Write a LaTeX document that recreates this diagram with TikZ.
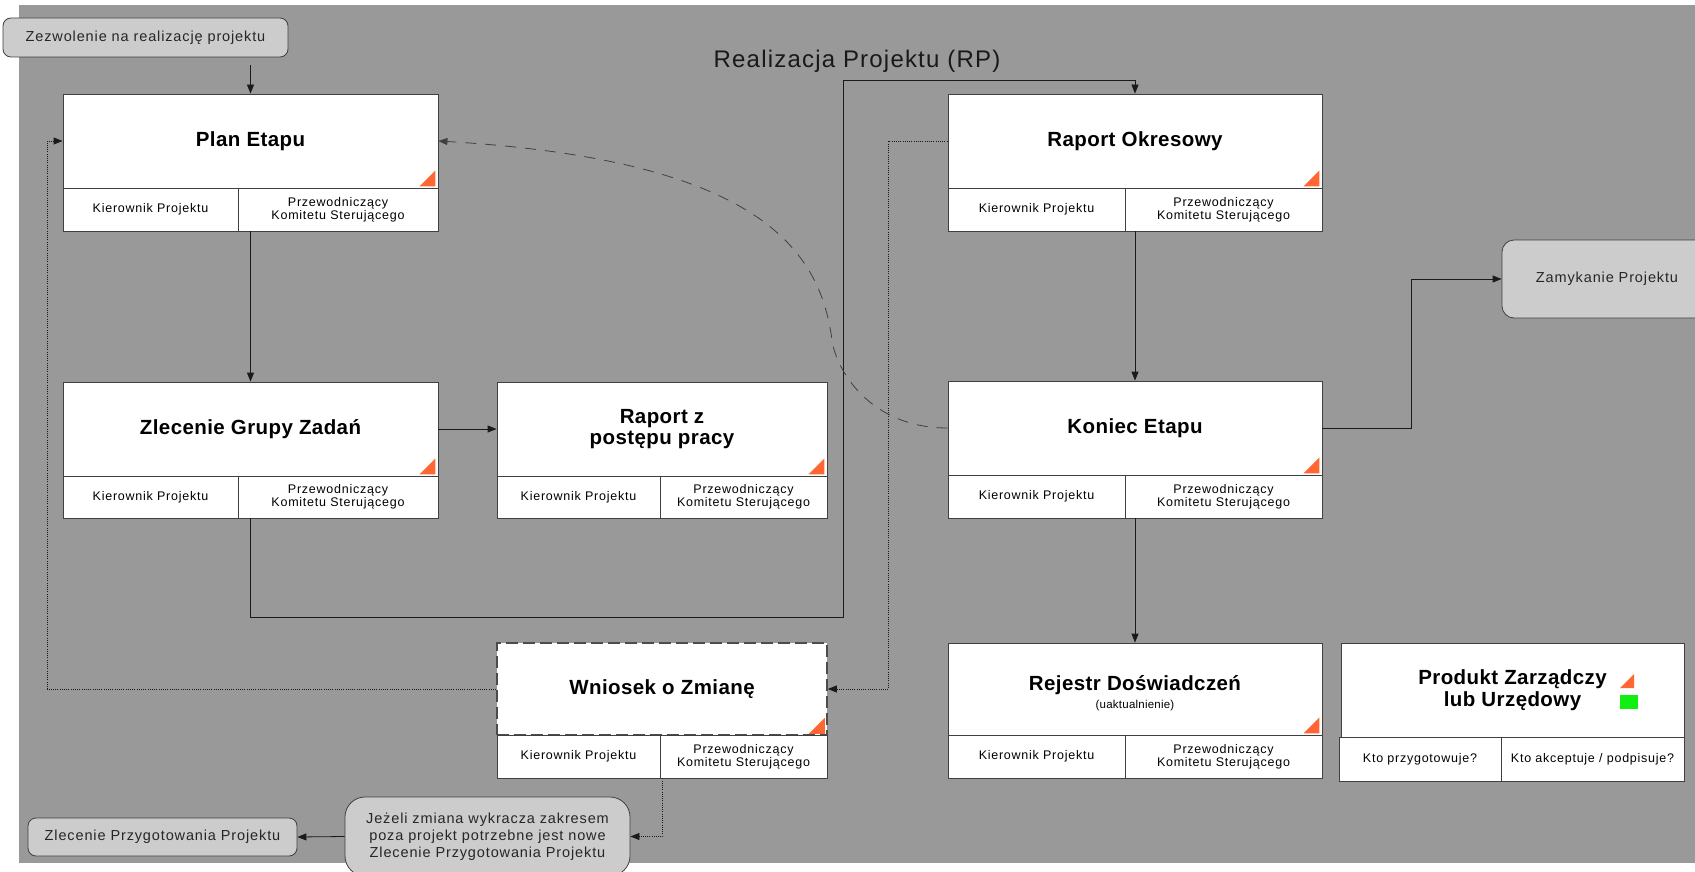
\documentclass[tikz,border=0pt]{standalone}
\usepackage{fontspec}
\setmainfont{Liberation Sans}
\newfontfamily\trk[LetterSpace=6]{Liberation Sans}
\newfontfamily\trkt[LetterSpace=5]{Liberation Sans}
\newfontfamily\trks[LetterSpace=2]{Liberation Sans}
\newfontfamily\trkb[LetterSpace=2]{Liberation Sans}
\usetikzlibrary{arrows.meta,calc}
\definecolor{bggray}{HTML}{999999}
\definecolor{nodegray}{HTML}{CCCCCC}
\definecolor{boxline}{HTML}{404040}
\definecolor{lineclr}{HTML}{1A1A1A}
\definecolor{orng}{HTML}{FF6633}
\definecolor{grn}{HTML}{11EE11}
\tikzset{
  topbox/.style={draw=boxline, fill=white, line width=0.8pt, inner sep=0pt, align=center,
    font=\trkb\bfseries\fontsize{20.5}{21.5}\selectfont},
  boxtitle/.style={inner sep=0pt, align=center, font=\trkb\bfseries\fontsize{20.5}{21.5}\selectfont},
  cellbox/.style={draw=boxline, fill=white, line width=0.8pt, inner sep=0pt, align=center,
    font=\trk\fontsize{12.5}{13}\selectfont},
  grayrnd/.style={draw=boxline, fill=nodegray, rounded corners=8pt, line width=0.8pt, inner sep=0pt,
    align=center, text=black!85, font=\trk\fontsize{14.5}{17}\selectfont},
  conn/.style={draw=lineclr, line width=0.8pt, -{Triangle[length=9pt,width=7pt]}},
  dotconn/.style={conn, dash pattern=on 1pt off 1.2pt},
  dashconn/.style={conn, draw=black!75, dash pattern=on 11pt off 9pt},
}
% #1 extra style for top part, #2 name, #3 x1, #4 x2, #5 xdiv, #6 ytop, #7 ysplit, #8 ybot, #9 title
\newcommand\pbox[9][]{%
  \node[topbox, #1, minimum width={(#4-#3)*1pt}, minimum height={(#7-#6)*1pt}] (#2) at ({(#3+#4)/2},{(#6+#7)/2}) {#9};
  \node[cellbox, minimum width={(#5-#3)*1pt}, minimum height={(#8-#7)*1pt}] (#2-l) at ({(#3+#5)/2},{(#7+#8)/2}) {Kierownik Projektu};
  \node[cellbox, minimum width={(#4-#5)*1pt}, minimum height={(#8-#7)*1pt}] (#2-r) at ({(#5+#4)/2},{(#7+#8)/2}) {Przewodniczący\\Komitetu Sterującego};
  \fill[orng] ($(#2.south east)+(-3,-2)$) -- ++(0,-16) -- ++(-16,16) -- cycle;
}
\begin{document}
\begin{tikzpicture}[x=1pt,y=-1pt]
\useasboundingbox (0,0) rectangle (1695,872);
\clip (0,0) rectangle (1695,872);
\fill[white] (0,0) rectangle (1695,872);
\fill[bggray] (19,5) rectangle (1695,863);

\node[font=\trkt\fontsize{24}{26}\selectfont, text=black!90] (title) at (857,61) {Realizacja Projektu (RP)};

\node[grayrnd, minimum width=285pt, minimum height=39pt] (zez) at (145.5,37.5) {Zezwolenie na realizację projektu};
\node[grayrnd, rounded corners=12pt, minimum width=210pt, minimum height=78pt] (zam) at (1607,279) {Zamykanie Projektu};
\node[grayrnd, minimum width=269pt, minimum height=38pt] (zprz) at (162.5,837) {Zlecenie Przygotowania Projektu};
\node[grayrnd, rounded corners=20pt, minimum width=285pt, minimum height=79pt] (note) at (487.5,836.5)
  {Jeżeli zmiana wykracza zakresem\\poza projekt potrzebne jest nowe\\Zlecenie Przygotowania Projektu};

\pbox{plan}{63}{438}{238}{94}{188}{231}{Plan Etapu}
\pbox{rapok}{948}{1322}{1125}{94}{188}{231}{Raport Okresowy}
\pbox{zlec}{63}{438}{238}{382}{476}{518}{Zlecenie Grupy Zadań}
\pbox{rpost}{497}{827}{660}{382}{476}{518}{Raport z\\postępu pracy}
\pbox{kon}{948}{1322}{1125}{381}{475}{518}{Koniec Etapu}
\pbox[draw=black!70, line width=1.6pt, dash pattern=on 12pt off 5pt]{wn}{497}{827}{660}{643}{735}{778}{Wniosek o Zmianę}
\pbox{rej}{948}{1322}{1125}{643}{735}{778}{}
\node[boxtitle] (rejt) at ($(rej.center)+(0,4)$) {Rejestr Doświadczeń\\[-3pt]{\trks\mdseries\fontsize{11.5}{13}\selectfont (uaktualnienie)}};

% legend
\node[topbox, minimum width=343pt, minimum height=94pt] (leg) at (1512.5,690) {Produkt Zarządczy\\lub Urzędowy};
\node[cellbox, minimum width=162pt, minimum height=44pt] (leg-l) at (1420,759) {Kto przygotowuje?};
\node[cellbox, minimum width=183pt, minimum height=44pt] (leg-r) at (1592.5,759) {Kto akceptuje / podpisuje?};
\fill[orng] (1634,674) -- (1634,688) -- (1620,688) -- cycle;
\fill[grn] (1620,695) rectangle (1638,709);

% connectors
\draw[conn, shorten <=8pt] (zez.south -| plan.north) -- (plan.north);
\draw[conn] (plan.south |- plan-l.south) -- (zlec.north);
\draw[conn] (zlec.east) -- (rpost.west);
\coordinate (loopA) at (843,617);
\draw[conn] (zlec.south |- zlec-l.south) |- (loopA) |- ($(rapok.north)+(0,-13)$) -- (rapok.north);
\draw[conn] (rapok.south |- rapok-l.south) -- (kon.north);
\draw[conn] (kon.south |- kon-l.south) -- (rej.north);
\draw[conn] (kon.east) -- ++(89,0) |- (zam.west);
\draw[dashconn] (kon.west) .. controls (870,428) and (836,370) .. (832,340)
  .. controls (820,250) and (760,160) .. (plan.east);
\draw[dotconn] (rapok.west) -- ++(-59,0) |- (wn.east);
\draw[dotconn] (wn.west) -- ++(-449,0) |- (plan.west);
\draw[dotconn] ([xshift=3pt]wn-r.south west) |- (note.east);
\draw[conn] (note.west) -- (zprz.east);
\end{tikzpicture}
\end{document}
